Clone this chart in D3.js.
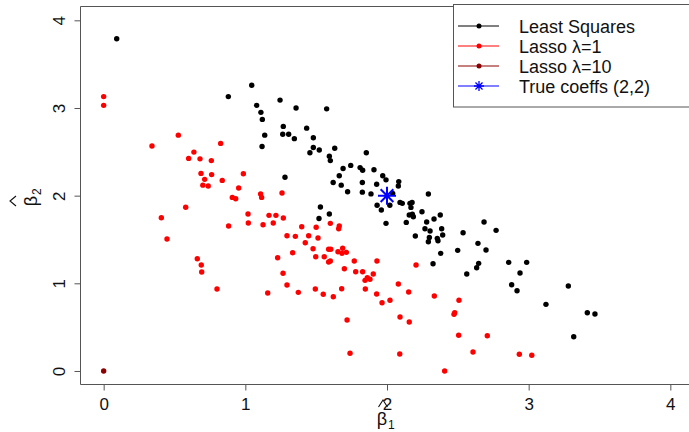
<!DOCTYPE html>
<html>
<head>
<meta charset="utf-8">
<script src="https://cdn.jsdelivr.net/npm/d3@7"></script>
<style>
  html, body { margin: 0; padding: 0; background: #fff; }
  svg { display: block; font-family: "Liberation Sans", Arial, Helvetica, sans-serif; }
</style>
</head>
<body>
<svg id="chart" width="689" height="432"></svg>
<script>
// Least-squares estimates (beta1, beta2)
const lsBeta1 = [0.092,0.88,1.045,1.245,1.08,1.11,1.358,1.574,1.12,1.268,1.264,1.306,1.137,1.433,1.346,1.118,1.48,1.48,1.456,1.522,1.631,1.593,1.60,1.854,1.69,1.744,1.81,1.828,1.908,1.663,1.97,1.62,1.677,1.826,1.927,1.993,2.083,2.08,1.722,1.826,1.887,1.93,2.02,1.96,1.993,2.04,1.28,1.53,1.593,1.52,2.092,2.108,2.162,2.169,2.177,2.292,2.157,2.186,2.179,2.247,2.376,2.136,2.28,2.332,2.268,2.304,2.386,2.393,2.20,2.299,2.292,2.355,2.36,2.379,2.325,2.499,2.537,2.563,2.642,2.699,2.647,2.633,2.685,2.77,2.859,2.986,2.939,2.88,2.918,3.122,3.28,3.414,3.468,3.318];
const lsBeta2 = [3.79,3.13,3.26,3.09,3.03,2.95,3.0,2.99,2.87,2.79,2.70,2.70,2.69,2.77,2.65,2.56,2.66,2.55,2.49,2.52,2.54,2.45,2.40,2.49,2.31,2.345,2.32,2.29,2.295,2.227,2.227,2.15,2.12,2.15,2.13,2.18,2.16,2.11,2.045,2.04,2.02,1.89,1.89,1.836,1.684,2.026,2.21,1.87,1.79,1.74,1.923,1.912,1.912,1.866,1.923,2.018,1.779,1.759,1.787,1.816,1.779,1.695,1.70,1.733,1.623,1.596,1.623,1.551,1.539,1.524,1.474,1.513,1.486,1.342,1.224,1.376,1.577,1.106,1.456,1.38,1.228,1.178,1.699,1.604,1.239,1.239,1.117,0.984,0.916,0.76,0.969,0.665,0.65,0.391];

// Lasso estimates with lambda = 1
const lasso1Beta1 = [0.0,0.0,0.80,1.158,1.294,0.826,0.68,0.76,0.687,0.713,0.762,0.70,0.738,0.837,0.986,0.953,0.908,0.932,1.108,1.115,1.259,1.019,1.167,1.216,1.268,0.882,1.021,1.125,1.197,1.398,1.50,1.60,1.663,1.659,1.294,1.353,1.447,1.513,0.527,0.341,0.637,0.60,0.579,0.407,0.447,0.661,0.689,0.692,1.228,1.266,1.423,1.478,1.588,1.603,1.654,1.687,1.682,1.713,1.334,1.497,1.557,1.588,1.60,1.374,1.494,1.55,1.621,1.68,1.699,1.769,1.779,1.828,1.903,1.845,1.861,1.88,1.929,1.847,1.927,1.965,2.021,2.08,2.153,2.205,2.092,2.157,1.718,1.739,2.09,2.334,2.508,2.473,2.478,2.506,2.607,2.407,2.708,2.934,3.022];
const lasso1Beta2 = [3.13,3.03,0.935,0.89,0.981,2.596,2.42,2.40,2.254,2.186,2.24,2.12,2.11,2.174,2.25,2.087,1.98,1.965,2.02,1.98,2.03,1.79,1.775,1.775,1.745,1.653,1.688,1.668,1.688,1.645,1.64,1.684,1.653,1.623,1.543,1.536,1.543,1.517,2.69,2.566,2.497,2.425,1.867,1.748,1.505,1.28,1.209,1.129,1.292,1.114,1.463,1.395,1.388,1.388,1.36,1.40,1.342,1.353,1.349,1.303,1.303,1.243,1.254,0.897,0.935,0.875,0.847,0.938,1.166,1.254,1.132,1.132,1.106,1.034,1.064,1.046,1.254,0.935,0.878,0.779,0.806,0.992,0.901,1.209,0.616,0.559,0.582,0.202,0.194,0.855,0.806,0.647,0.665,0.407,0.217,0.0,0.402,0.19,0.179];

// Lasso estimates with lambda = 10 (all shrunk to zero)
const lasso10Beta1 = [0];
const lasso10Beta2 = [0];

// True coefficients
const trueBeta1 = [2];
const trueBeta2 = [2];

const xTicks = [0, 1, 2, 3, 4];
const yTicks = [0, 1, 2, 3, 4];
const legendLabels = ["Least Squares", "Lasso \u03bb=1", "Lasso \u03bb=10", "True coeffs (2,2)"];
const legendColors = ["#000000", "#ff0000", "#8b0000", "#0000ff"];

const svg = d3.select("#chart");
const axisColor = "#555";

const x = d3.scaleLinear().domain([-0.16, 4.16]).range([81, 693]);
const y = d3.scaleLinear().domain([-0.16, 4.16]).range([385, 6.3]);

// Axes
const xAxis = svg.append("g")
  .attr("transform", "translate(0,384.5)")
  .call(d3.axisBottom(x).tickValues(xTicks).tickFormat(d3.format("d")).tickSize(6).tickPadding(5));
const yAxis = svg.append("g")
  .attr("transform", "translate(80.5,0)")
  .call(d3.axisLeft(y).tickValues(yTicks).tickFormat(d3.format("d")).tickSize(6));

[xAxis, yAxis].forEach(g => {
  g.select(".domain").remove();
  g.selectAll(".tick line").attr("stroke", axisColor);
  g.selectAll(".tick text").attr("fill", "#111").style("font-size", "17px")
    .style("font-family", "'Liberation Sans', Arial, sans-serif");
});
xAxis.selectAll(".tick text").attr("dy", "0.85em");
// y tick labels parallel to the axis
yAxis.selectAll(".tick text")
  .attr("x", 0).attr("dy", 0)
  .attr("text-anchor", "middle")
  .attr("transform", "translate(-16,0) rotate(-90)");

// Plot frame
svg.append("path")
  .attr("d", "M693,6.5 H80.5 V384.5 H693")
  .attr("fill", "none")
  .attr("stroke", axisColor)
  .attr("stroke-width", 1);

// Points
function dots(b1, b2, color) {
  svg.append("g").selectAll("circle")
    .data(d3.range(b1.length))
    .join("circle")
    .attr("cx", i => x(b1[i]))
    .attr("cy", i => y(b2[i]))
    .attr("r", 2.7)
    .attr("fill", color);
}
dots(lsBeta1, lsBeta2, legendColors[0]);
dots(lasso1Beta1, lasso1Beta2, legendColors[1]);
dots(lasso10Beta1, lasso10Beta2, legendColors[2]);

// Eight-armed asterisk marker
function star(g, cx, cy, r, color, w) {
  const a = r / Math.SQRT2;
  g.append("path")
    .attr("d", `M${cx - r},${cy}H${cx + r}M${cx},${cy - r}V${cy + r}` +
               `M${cx - a},${cy - a}L${cx + a},${cy + a}M${cx - a},${cy + a}L${cx + a},${cy - a}`)
    .attr("stroke", color).attr("stroke-width", w).attr("fill", "none");
}
trueBeta1.forEach((b, i) => star(svg, x(b), y(trueBeta2[i]), 9, legendColors[3], 2));

// Axis titles: beta-hat 1 and beta-hat 2
const titleFont = "18px";
svg.append("text").attr("x", 382).attr("y", 425).attr("text-anchor", "middle")
  .style("font-size", titleFont).attr("fill", "#111").text("\u03b2");
svg.append("text").attr("x", 388).attr("y", 428.5)
  .style("font-size", "12px").attr("fill", "#111").text("1");
svg.append("path").attr("d", "M378.5,407 L383,400 L387.5,407")
  .attr("fill", "none").attr("stroke", "#111").attr("stroke-width", 1.1);

const yt = svg.append("g").attr("transform", "translate(37,201) rotate(-90)");
yt.append("text").attr("x", 0).attr("y", 0).attr("text-anchor", "middle")
  .style("font-size", titleFont).attr("fill", "#111").text("\u03b2");
yt.append("text").attr("x", 6).attr("y", 4)
  .style("font-size", "12px").attr("fill", "#111").text("2");
yt.append("path").attr("d", "M-5,-21 L0,-27 L5,-21")
  .attr("fill", "none").attr("stroke", "#111").attr("stroke-width", 1.1);

// Legend
const leg = svg.append("g");
leg.append("rect").attr("x", 453.5).attr("y", 4.5).attr("width", 240).attr("height", 102.5)
  .attr("fill", "#fff").attr("stroke", axisColor).attr("stroke-width", 1);
legendLabels.forEach((lab, i) => {
  const cy = 26 + i * 20;
  leg.append("line").attr("x1", 458).attr("x2", 499).attr("y1", cy).attr("y2", cy)
    .attr("stroke", legendColors[i]).attr("stroke-width", 1);
  if (i < 3) {
    leg.append("circle").attr("cx", 479).attr("cy", cy).attr("r", 2.5).attr("fill", legendColors[i]);
  } else {
    star(leg, 479, cy, 5, legendColors[i], 1.3);
  }
  leg.append("text").attr("x", 519).attr("y", cy + 6.5)
    .style("font-size", "18px").attr("fill", "#111").text(lab);
});
</script>
</body>
</html>
